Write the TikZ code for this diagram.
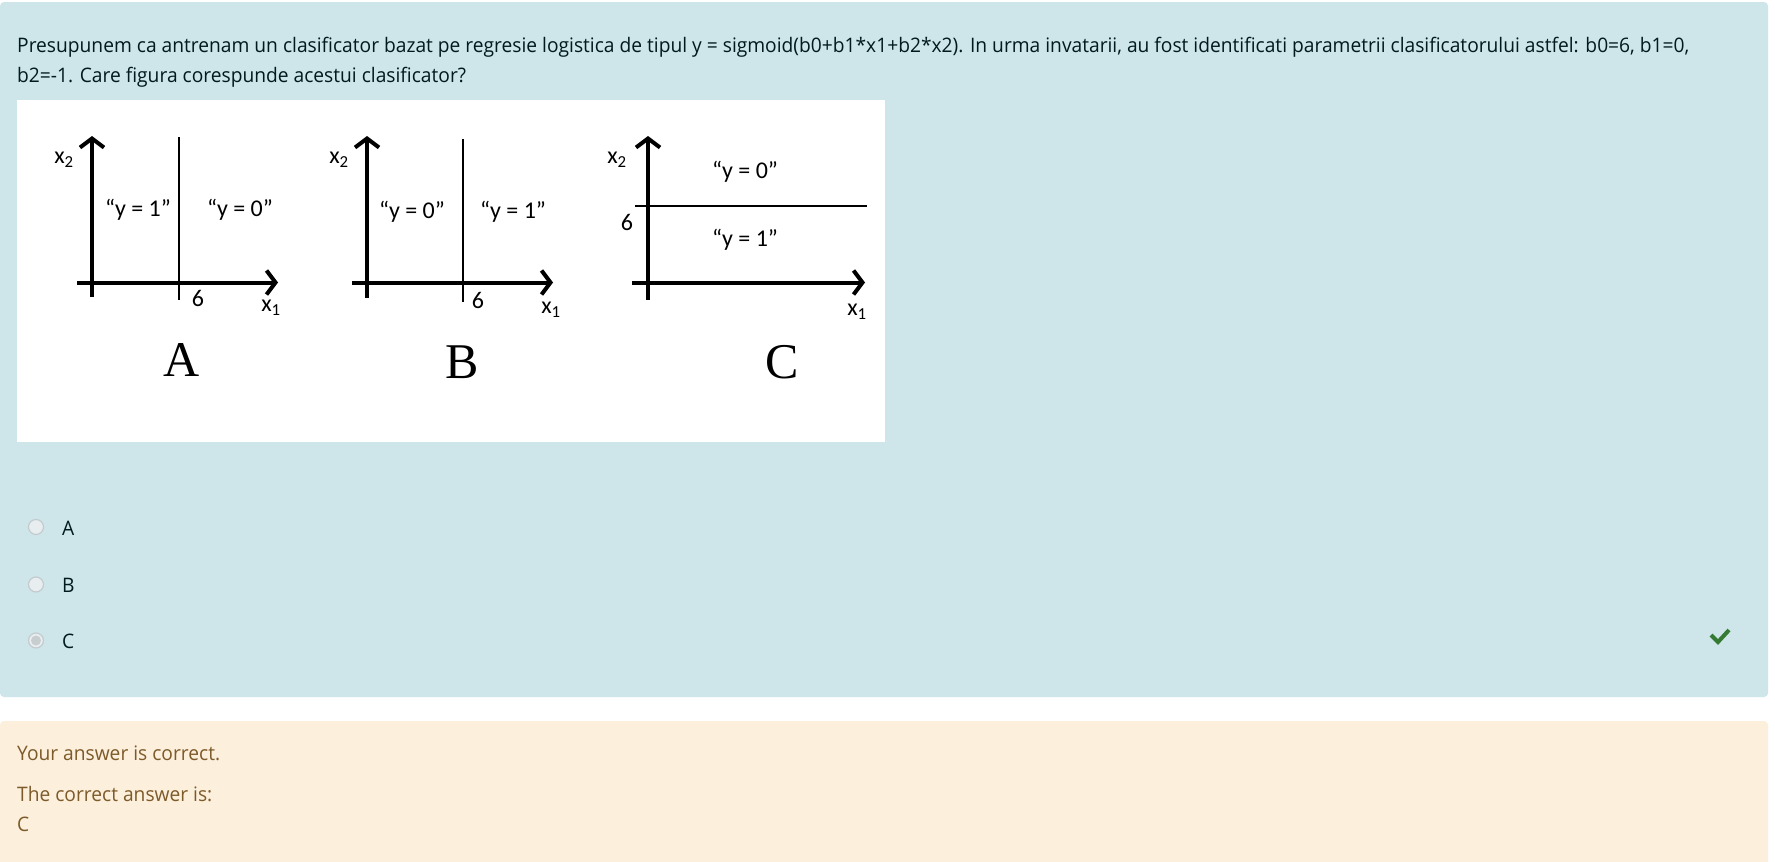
\documentclass[tikz,border=0pt]{standalone}
\usepackage{fontspec}
\setmainfont[FakeStretch=0.96]{Open Sans}
\newfontfamily\figfont{Carlito}
\newfontfamily\capfont{Liberation Serif}
\usetikzlibrary{arrows.meta,positioning}
\definecolor{quebg}{HTML}{CEE5E9}
\definecolor{quetext}{HTML}{001A1E}
\definecolor{outbg}{HTML}{FCEFDC}
\definecolor{outtext}{HTML}{7D5A29}
\definecolor{okcol}{HTML}{357A32}
\definecolor{radiofill}{HTML}{E8EEF0}
\definecolor{radioline}{HTML}{C4CBCE}
\definecolor{radiodot}{HTML}{C8CDD0}

\begin{document}
\begin{tikzpicture}[x=1pt,y=-1pt,
  body/.style={inner sep=0pt,anchor=base west,text=quetext,font=\fontsize{20}{30}\selectfont},
  outcome/.style={body,text=outtext},
  axis/.style={line width=4pt,-{Straight Barb[length=9pt,width=24pt]}},
  bound/.style={line width=2pt},
  lbl/.style={inner sep=0pt,font=\figfont\fontsize{24}{26}\selectfont},
  figcap/.style={inner sep=0pt,font=\capfont\fontsize{50}{50}\selectfont},
  radio/.style={circle,draw=radioline,fill=radiofill,line width=1.2pt,minimum size=15pt,inner sep=0pt}]
  \useasboundingbox (0,0) rectangle (1775,862);
  \fill[white] (0,0) rectangle (1775,862);
  % panels
  \fill[quebg,rounded corners=4pt] (0,2) rectangle (1768,697);
  \fill[outbg,rounded corners=4pt] (0,721) rectangle (1768,880);
  \fill[white] (17,100) rectangle (885,442);
  % question
  \node[body] (q1) at (17,52) {Presupunem ca antrenam un clasificator bazat pe regresie logistica de tipul y = sigmoid(b0+b1*x1+b2*x2). In urma invatarii, au fost identificati parametrii clasificatorului astfel: b0=6, b1=0,};
  \node[body] (q2) at (17,82) {b2=-1. Care figura corespunde acestui clasificator?};
  % axes of the three plots
  \foreach \ox/\xs/\xe/\yb in {92/77/278/297, 367/352/553/298, 648/632/865/300} {
    \draw[axis] (\ox,\yb) -- (\ox,136);
    \draw[axis] (\xs,282.5) -- (\xe,282.5);
  }
  % decision boundaries
  \draw[bound] (179,137) -- (179,300);
  \draw[bound] (463,139) -- (463,302);
  \draw[bound] (635,206) -- (867,206);
  % plot A
  \node[lbl] (ax2) at (64,160) {x\textsubscript{2}};
  \node[lbl] (ay1) at (138,210) {“y = 1”};
  \node[lbl] (ay0) at (240,210) {“y = 0”};
  \node[lbl] (a6) at (198,298) {6};
  \node[lbl] (ax1) at (271,308) {x\textsubscript{1}};
  \node[figcap] (capa) at (182,360) {A};
  % plot B
  \node[lbl] (bx2) at (339,160) {x\textsubscript{2}};
  \node[lbl] (by0) at (412,212) {“y = 0”};
  \node[lbl] (by1) at (513,212) {“y = 1”};
  \node[lbl] (b6) at (478,300) {6};
  \node[lbl] (bx1) at (551,310) {x\textsubscript{1}};
  \node[figcap] (capb) at (462,362) {B};
  % plot C
  \node[lbl] (cx2) at (617,160) {x\textsubscript{2}};
  \node[lbl] (cy0) at (745,172) {“y = 0”};
  \node[lbl] (c6) at (627,222) {6};
  \node[lbl] (cy1) at (745,240) {“y = 1”};
  \node[lbl] (cx1) at (857,312) {x\textsubscript{1}};
  \node[figcap] (capc) at (782,362) {C};
  % answers
  \node[radio] (ra) at (36,527) {};
  \node[radio] (rb) at (36,584.5) {};
  \node[radio] (rc) at (36,640.5) {};
  \fill[radiodot] (rc.center) circle (5pt);
  \node[body] (la) at (62,535) {A};
  \node[body] (lb) at (62,592) {B};
  \node[body] (lc) at (62,648) {C};
  \draw[okcol,line width=4pt] (1711,635) -- (1718,642) -- (1729,630);
  % outcome
  \node[outcome] (o1) at (17,760) {Your answer is correct.};
  \node[outcome] (o2) at (17,801) {The correct answer is:};
  \node[outcome] (o3) at (17,831) {C};
\end{tikzpicture}
\end{document}
